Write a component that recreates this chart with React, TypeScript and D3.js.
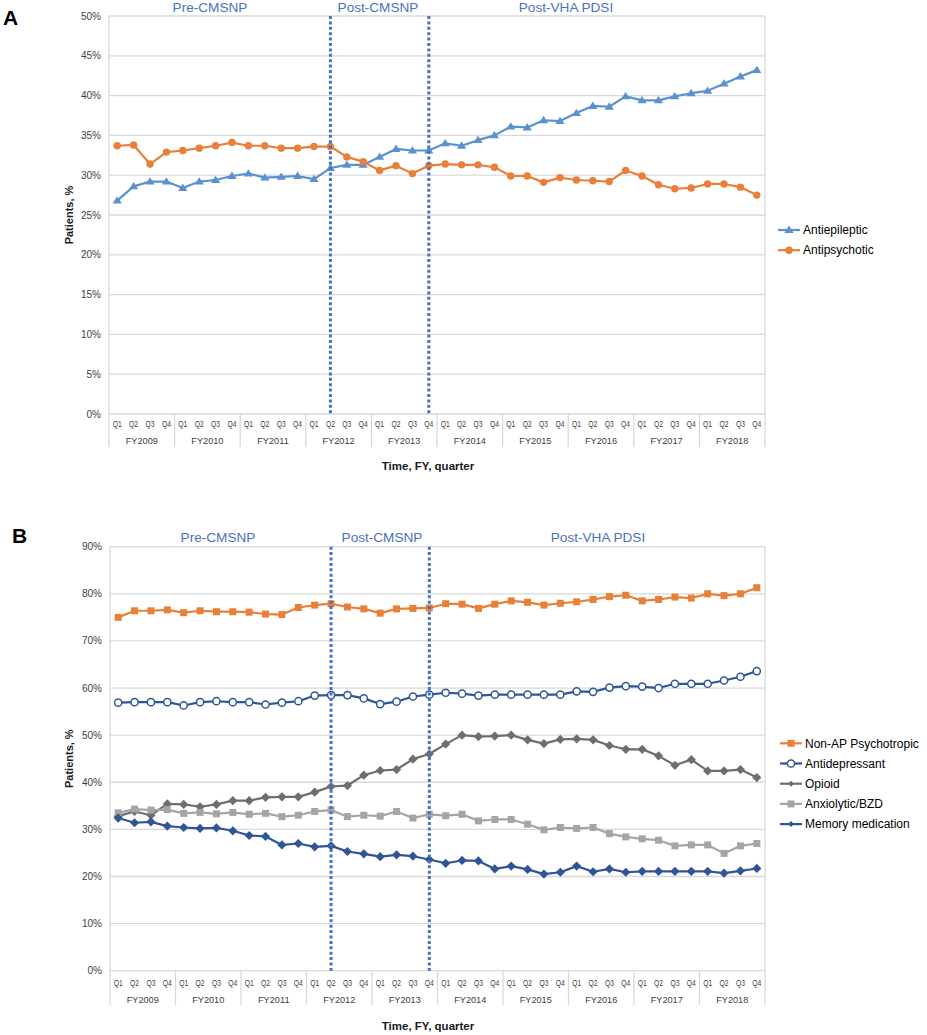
import React from "react";
import * as d3 from "d3";

const quarters = ["Q1", "Q2", "Q3", "Q4"];
const fiscalYears = ["FY2009", "FY2010", "FY2011", "FY2012", "FY2013", "FY2014", "FY2015", "FY2016", "FY2017", "FY2018"];
const categories = fiscalYears.flatMap((fy) => quarters.map((q) => `${fy} ${q}`));

const phaseLabels = ["Pre-CMSNP", "Post-CMSNP", "Post-VHA PDSI"];
const phaseBoundaryCategories = ["FY2012 Q2", "FY2013 Q4"];

// Panel A
const antiepileptic = [
  26.8, 28.6, 29.2, 29.2, 28.4, 29.2, 29.4, 29.9, 30.2, 29.7,
  29.8, 29.9, 29.5, 30.9, 31.3, 31.3, 32.3, 33.3, 33.1, 33.1,
  34.0, 33.7, 34.4, 35.0, 36.1, 36.0, 36.9, 36.8, 37.8, 38.7,
  38.6, 39.9, 39.4, 39.4, 39.9, 40.3, 40.6, 41.5, 42.4, 43.2,
];
const antipsychotic = [
  33.7, 33.8, 31.4, 32.9, 33.1, 33.4, 33.7, 34.1, 33.7, 33.7,
  33.4, 33.4, 33.6, 33.6, 32.3, 31.7, 30.6, 31.2, 30.2, 31.2,
  31.4, 31.3, 31.3, 31.0, 29.9, 29.9, 29.1, 29.7, 29.4, 29.3,
  29.2, 30.6, 29.9, 28.8, 28.3, 28.4, 28.9, 28.9, 28.5, 27.5,
];
const yTicksA = [0, 5, 10, 15, 20, 25, 30, 35, 40, 45, 50];

// Panel B
const nonAPPsychotropic = [
  75.0, 76.4, 76.4, 76.6, 76.0, 76.4, 76.2, 76.2, 76.1, 75.7,
  75.6, 77.1, 77.6, 77.9, 77.2, 76.8, 75.9, 76.8, 76.9, 77.0,
  77.9, 77.8, 76.9, 77.8, 78.5, 78.2, 77.6, 78.0, 78.3, 78.8,
  79.4, 79.7, 78.5, 78.8, 79.3, 79.1, 80.0, 79.6, 80.0, 81.3,
];
const antidepressant = [
  56.9, 57.0, 57.0, 57.0, 56.3, 57.0, 57.2, 57.0, 57.0, 56.5,
  56.9, 57.2, 58.4, 58.5, 58.5, 57.8, 56.6, 57.1, 58.2, 58.6,
  59.0, 58.8, 58.4, 58.6, 58.6, 58.6, 58.6, 58.6, 59.3, 59.2,
  60.1, 60.4, 60.3, 60.0, 60.9, 60.9, 60.9, 61.6, 62.4, 63.6,
];
const opioid = [
  32.8, 33.8, 33.0, 35.4, 35.3, 34.8, 35.3, 36.1, 36.1, 36.8,
  36.9, 36.9, 37.9, 39.1, 39.3, 41.5, 42.5, 42.7, 44.9, 46.0,
  48.1, 50.0, 49.7, 49.8, 50.0, 49.0, 48.2, 49.1, 49.2, 49.0,
  47.8, 47.0, 47.0, 45.6, 43.6, 44.8, 42.4, 42.4, 42.7, 41.0,
];
const anxiolyticBZD = [
  33.5, 34.3, 34.1, 34.2, 33.4, 33.6, 33.3, 33.6, 33.2, 33.4,
  32.7, 33.0, 33.8, 34.1, 32.7, 33.0, 32.8, 33.8, 32.4, 33.2,
  32.9, 33.2, 31.8, 32.1, 32.1, 31.1, 29.9, 30.4, 30.2, 30.4,
  29.1, 28.4, 28.0, 27.7, 26.5, 26.7, 26.7, 24.9, 26.5, 27.0,
];
const memoryMedication = [
  32.4, 31.4, 31.6, 30.7, 30.4, 30.2, 30.3, 29.7, 28.7, 28.5,
  26.7, 27.0, 26.3, 26.5, 25.3, 24.8, 24.2, 24.6, 24.3, 23.6,
  22.8, 23.4, 23.3, 21.6, 22.2, 21.5, 20.5, 20.9, 22.2, 21.0,
  21.6, 20.9, 21.1, 21.1, 21.1, 21.1, 21.1, 20.7, 21.2, 21.7,
];
const yTicksB = [0, 10, 20, 30, 40, 50, 60, 70, 80, 90];

type Marker = "triangle" | "circle" | "openCircle" | "square" | "diamond";
type Series = { name: string; values: number[]; color: string; marker: Marker; size: number };

const seriesA: Series[] = [
  { name: "Antiepileptic", values: antiepileptic, color: "#5B91CF", marker: "triangle", size: 4.6 },
  { name: "Antipsychotic", values: antipsychotic, color: "#E8803A", marker: "circle", size: 3.7 },
];
const seriesB: Series[] = [
  { name: "Non-AP Psychotropic", values: nonAPPsychotropic, color: "#E8803A", marker: "square", size: 3.5 },
  { name: "Antidepressant", values: antidepressant, color: "#2F5597", marker: "openCircle", size: 3.6 },
  { name: "Opioid", values: opioid, color: "#6E6E6E", marker: "diamond", size: 4.6 },
  { name: "Anxiolytic/BZD", values: anxiolyticBZD, color: "#A5A5A5", marker: "square", size: 3.5 },
  { name: "Memory medication", values: memoryMedication, color: "#2F5597", marker: "diamond", size: 4.6 },
];

function markerPath(m: Marker, s: number): string {
  if (m === "triangle") {
    const h = s * 1.6;
    return `M0,${-h * 0.6}L${s},${h * 0.4}L${-s},${h * 0.4}Z`;
  }
  if (m === "square") return `M${-s},${-s}H${s}V${s}H${-s}Z`;
  if (m === "diamond") return `M0,${-s}L${s},0L0,${s}L${-s},0Z`;
  return "";
}

function MarkerShape({ m, s, color, x, y }: { m: Marker; s: number; color: string; x: number; y: number }) {
  if (m === "circle") return <circle cx={x} cy={y} r={s} fill={color} />;
  if (m === "openCircle") return <circle cx={x} cy={y} r={s} fill="#fff" stroke={color} strokeWidth={1.5} />;
  return <path d={markerPath(m, s)} transform={`translate(${x},${y})`} fill={color} />;
}

const FONT = "'Liberation Sans', Arial, sans-serif";

type PanelProps = {
  letter: string;
  letterY: number;
  series: Series[];
  yTicks: number[];
  left: number;
  right: number;
  top: number;
  bottom: number;
  phaseX: number[];
  phaseY: number;
  qY: number;
  fyY: number;
  sepBottom: number;
  titleY: number;
  legendX: number;
  legendY: number;
};

function Panel(p: PanelProps) {
  const x = d3.scaleBand<string>().domain(categories).range([p.left, p.right]).padding(0);
  const y = d3.scaleLinear().domain([0, d3.max(p.yTicks) as number]).range([p.bottom, p.top]);
  const bw = x.bandwidth();
  const cx = (c: string) => (x(c) as number) + bw / 2;
  const line = d3
    .line<number>()
    .x((_, i) => cx(categories[i]))
    .y((v) => y(v));
  const grid = "#D9D9D9";
  return (
    <g>
      <text x={p.letter === "A" ? 3 : 12} y={p.letterY} fontFamily={FONT} fontWeight="bold" fontSize={21} fill="#000">
        {p.letter}
      </text>
      {p.yTicks.map((t) => (
        <g key={t}>
          <line x1={p.left} x2={p.right} y1={y(t)} y2={y(t)} stroke={grid} strokeWidth={1.3} />
          <text x={p.left - 8} y={y(t)} dy="0.35em" textAnchor="end" fontFamily={FONT} fontSize={10} fill="#404040">
            {`${t}%`}
          </text>
        </g>
      ))}
      <line x1={p.left} x2={p.left} y1={p.top} y2={p.sepBottom} stroke={grid} strokeWidth={1.3} />
      <line x1={p.right} x2={p.right} y1={p.top} y2={p.sepBottom} stroke={grid} strokeWidth={1.3} />
      {fiscalYears.map((fy, i) => {
        const x0 = x(`${fy} Q1`) as number;
        return (
          <g key={fy}>
            {i > 0 && <line x1={x0} x2={x0} y1={p.bottom} y2={p.sepBottom} stroke={grid} strokeWidth={1.3} />}
            <text x={x0 + bw * 2} y={p.fyY} textAnchor="middle" fontFamily={FONT} fontSize={9.2} fill="#404040">
              {fy}
            </text>
          </g>
        );
      })}
      {categories.map((c, i) => (
        <text
          key={c}
          x={cx(c)}
          y={p.qY}
          textAnchor="middle"
          fontFamily={FONT}
          fontSize={9.4}
          fill="#404040"
          textLength={9}
          lengthAdjust="spacingAndGlyphs"
        >
          {quarters[i % 4]}
        </text>
      ))}
      <text
        transform={`translate(73,${(p.top + p.bottom) / 2}) rotate(-90)`}
        textAnchor="middle"
        fontFamily={FONT}
        fontWeight="bold"
        fontSize={11}
        fill="#1a1a1a"
      >
        Patients, %
      </text>
      <text x={428} y={p.titleY} textAnchor="middle" fontFamily={FONT} fontWeight="bold" fontSize={11.5} fill="#1a1a1a">
        Time, FY, quarter
      </text>
      {p.series.map((s) => (
        <g key={s.name}>
          <path d={line(s.values) as string} fill="none" stroke={s.color} strokeWidth={2.2} strokeLinejoin="round" />
          {s.values.map((v, i) => (
            <MarkerShape key={i} m={s.marker} s={s.size} color={s.color} x={cx(categories[i])} y={y(v)} />
          ))}
        </g>
      ))}
      {phaseBoundaryCategories.map((c) => (
        <line
          key={c}
          x1={cx(c)}
          x2={cx(c)}
          y1={p.top}
          y2={p.bottom}
          stroke="#4472C4"
          strokeWidth={3}
          strokeDasharray="3,2.4"
        />
      ))}
      {phaseLabels.map((l, i) => (
        <text key={l} x={p.phaseX[i]} y={p.phaseY} textAnchor="middle" fontFamily={FONT} fontSize={13.6} fill="#4A72C0">
          {l}
        </text>
      ))}
      {p.series.map((s, i) => {
        const ly = p.legendY + i * 20.2;
        return (
          <g key={s.name}>
            <line x1={p.legendX} x2={p.legendX + 22} y1={ly} y2={ly} stroke={s.color} strokeWidth={2.2} />
            <MarkerShape
              m={s.marker}
              s={s.marker === "diamond" ? 3 : s.size}
              color={s.color}
              x={p.legendX + 11}
              y={ly}
            />
            <text x={p.legendX + 25} y={ly} dy="0.35em" fontFamily={FONT} fontSize={12} fill="#000">
              {s.name}
            </text>
          </g>
        );
      })}
    </g>
  );
}

export default function App() {
  return (
    <svg
      width={927}
      height={1035}
      viewBox="0 0 927 1035"
      style={{ position: "absolute", left: 0, top: 0, background: "#fff" }}
    >
      <rect width={927} height={1035} fill="#fff" />
      <Panel
        letter="A"
        letterY={25}
        series={seriesA}
        yTicks={yTicksA}
        left={109}
        right={765}
        top={16}
        bottom={414}
        phaseX={[210, 378, 566]}
        phaseY={12}
        qY={426.5}
        fyY={444}
        sepBottom={447}
        titleY={470}
        legendX={778}
        legendY={230}
      />
      <Panel
        letter="B"
        letterY={543}
        series={seriesB}
        yTicks={yTicksB}
        left={110}
        right={765}
        top={546.7}
        bottom={970.7}
        phaseX={[218, 382, 598]}
        phaseY={542}
        qY={985.5}
        fyY={1002.5}
        sepBottom={1005}
        titleY={1030}
        legendX={780}
        legendY={743.3}
      />
    </svg>
  );
}
